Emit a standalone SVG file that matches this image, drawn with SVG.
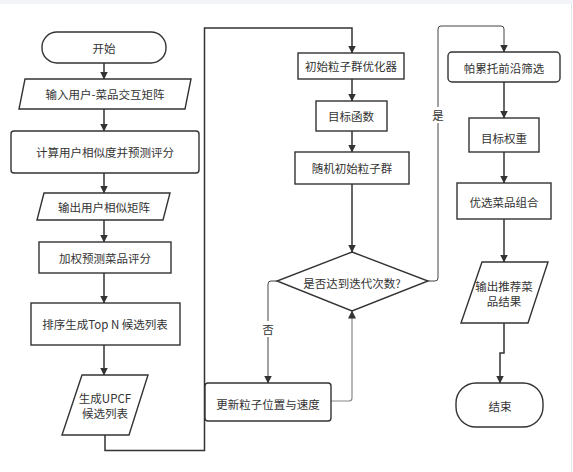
<svg xmlns="http://www.w3.org/2000/svg" width="573" height="472" viewBox="0 0 573 472">
<style>
.n{fill:#fff;stroke:#333;stroke-width:1.4}
.t{font-family:"Noto Sans CJK SC","Liberation Sans",sans-serif;font-size:11.5px;fill:#333;text-anchor:middle;dominant-baseline:central}
.c{fill:none;stroke:#333;stroke-width:1.5}
.c2{fill:none;stroke:#444;stroke-width:1}
.c3{fill:none;stroke:#888;stroke-width:1.2}
</style>
<defs>
<marker id="a" markerWidth="8" markerHeight="10" refX="7.5" refY="4" orient="auto" markerUnits="userSpaceOnUse" viewBox="0 0 8 8">
<path d="M0,0 L8,4 L0,8 Z" fill="#333"/>
</marker>
</defs>
<rect x="0" y="0" width="573" height="472" fill="#fff"/>
<rect x="0" y="0" width="573" height="4" fill="#f3f4f8"/>
<line x1="571.5" y1="4" x2="571.5" y2="472" stroke="#e6e6e6" stroke-width="1"/>
<g id="connectors">
<path class="c" d="M104,63 V79" marker-end="url(#a)"/>
<path class="c" d="M104,109 V131" marker-end="url(#a)"/>
<path class="c" d="M104,173 V193" marker-end="url(#a)"/>
<path class="c" d="M104,220 V242" marker-end="url(#a)"/>
<path class="c" d="M104,273 V303" marker-end="url(#a)"/>
<path class="c" d="M104,345 V375" marker-end="url(#a)"/>
<path class="c" d="M105,435 V450.5 H204.5 V28 H352 V53" marker-end="url(#a)"/>
<path class="c" d="M352,79 V101" marker-end="url(#a)"/>
<path class="c" d="M352,131 V152" marker-end="url(#a)"/>
<path class="c" d="M352,184 V252" marker-end="url(#a)"/>
<path class="c2" d="M277,281 H271 Q268,281 268,284 V383" marker-end="url(#a)"/>
<path class="c3" d="M331,401 H349 Q352,401 352,398 V311" marker-end="url(#a)"/>
<path class="c2" d="M428,281 H435 Q438,281 438,278 V29 Q438,26 441,26 H501 Q504,26 504,29 V52" marker-end="url(#a)"/>
<path class="c" d="M504,82 V118" marker-end="url(#a)"/>
<path class="c" d="M504,152 V183" marker-end="url(#a)"/>
<path class="c" d="M504,219 V262" marker-end="url(#a)"/>
<path class="c" d="M504,323 V353 H500 V383" marker-end="url(#a)"/>
<rect x="262" y="321" width="12" height="16" fill="#fff"/>
<text class="t" x="268" y="329">否</text>
<rect x="432" y="107" width="12" height="16" fill="#fff"/>
<text class="t" x="438" y="115">是</text>
</g>
<g id="start"><rect class="n" x="42" y="32" width="124" height="31" rx="15"/><text class="t" x="104" y="47.5">开始</text></g>
<g id="input"><polygon class="n" points="25,79 191,79 185,109 19,109"/><text class="t" x="105" y="94">输入用户-菜品交互矩阵</text></g>
<g id="calc"><rect class="n" x="11" y="131" width="188" height="42" rx="3"/><text class="t" x="105" y="152">计算用户相似度并预测评分</text></g>
<g id="outsim"><polygon class="n" points="44,193 170,193 163,220 37,220"/><text class="t" x="104" y="207">输出用户相似矩阵</text></g>
<g id="weighted"><rect class="n" x="39" y="242" width="132" height="31"/><text class="t" x="105" y="257.5">加权预测菜品评分</text></g>
<g id="sort"><rect class="n" x="31" y="303" width="149" height="42"/><text class="t" x="105" y="324">排序生成Top N 候选列表</text></g>
<g id="upcf"><polygon class="n" points="82,375 148,375 129,435 62,435"/><text class="t" x="105" y="398"><tspan x="105">生成UPCF</tspan><tspan x="105" dy="15">候选列表</tspan></text></g>
<g id="pso"><rect class="n" x="298" y="53" width="106" height="26"/><text class="t" x="351" y="66">初始粒子群优化器</text></g>
<g id="objfn"><rect class="n" x="316" y="101" width="71" height="30"/><text class="t" x="351" y="116">目标函数</text></g>
<g id="randinit"><rect class="n" x="295" y="152" width="114" height="32"/><text class="t" x="352" y="168">随机初始粒子群</text></g>
<g id="decision"><polygon class="n" points="352,252 428,281 352,311 277,281"/><text class="t" x="352" y="283">是否达到迭代次数?</text></g>
<g id="update"><rect class="n" x="205" y="383" width="126" height="38" rx="3"/><text class="t" x="268" y="404">更新粒子位置与速度</text></g>
<g id="pareto"><rect class="n" x="448" y="52" width="112" height="30" rx="4"/><text class="t" x="504" y="68">帕累托前沿筛选</text></g>
<g id="weights"><rect class="n" x="469" y="118" width="70" height="34"/><text class="t" x="504" y="138">目标权重</text></g>
<g id="combo"><rect class="n" x="457" y="183" width="94" height="36"/><text class="t" x="504" y="202">优选菜品组合</text></g>
<g id="output"><polygon class="n" points="482,262 548,262 528,323 461,323"/><text class="t" x="504" y="286"><tspan x="504">输出推荐菜</tspan><tspan x="504" dy="14.5">品结果</tspan></text></g>
<g id="end"><rect class="n" x="456" y="383" width="87" height="44" rx="20"/><text class="t" x="500" y="406">结束</text></g>
</svg>
